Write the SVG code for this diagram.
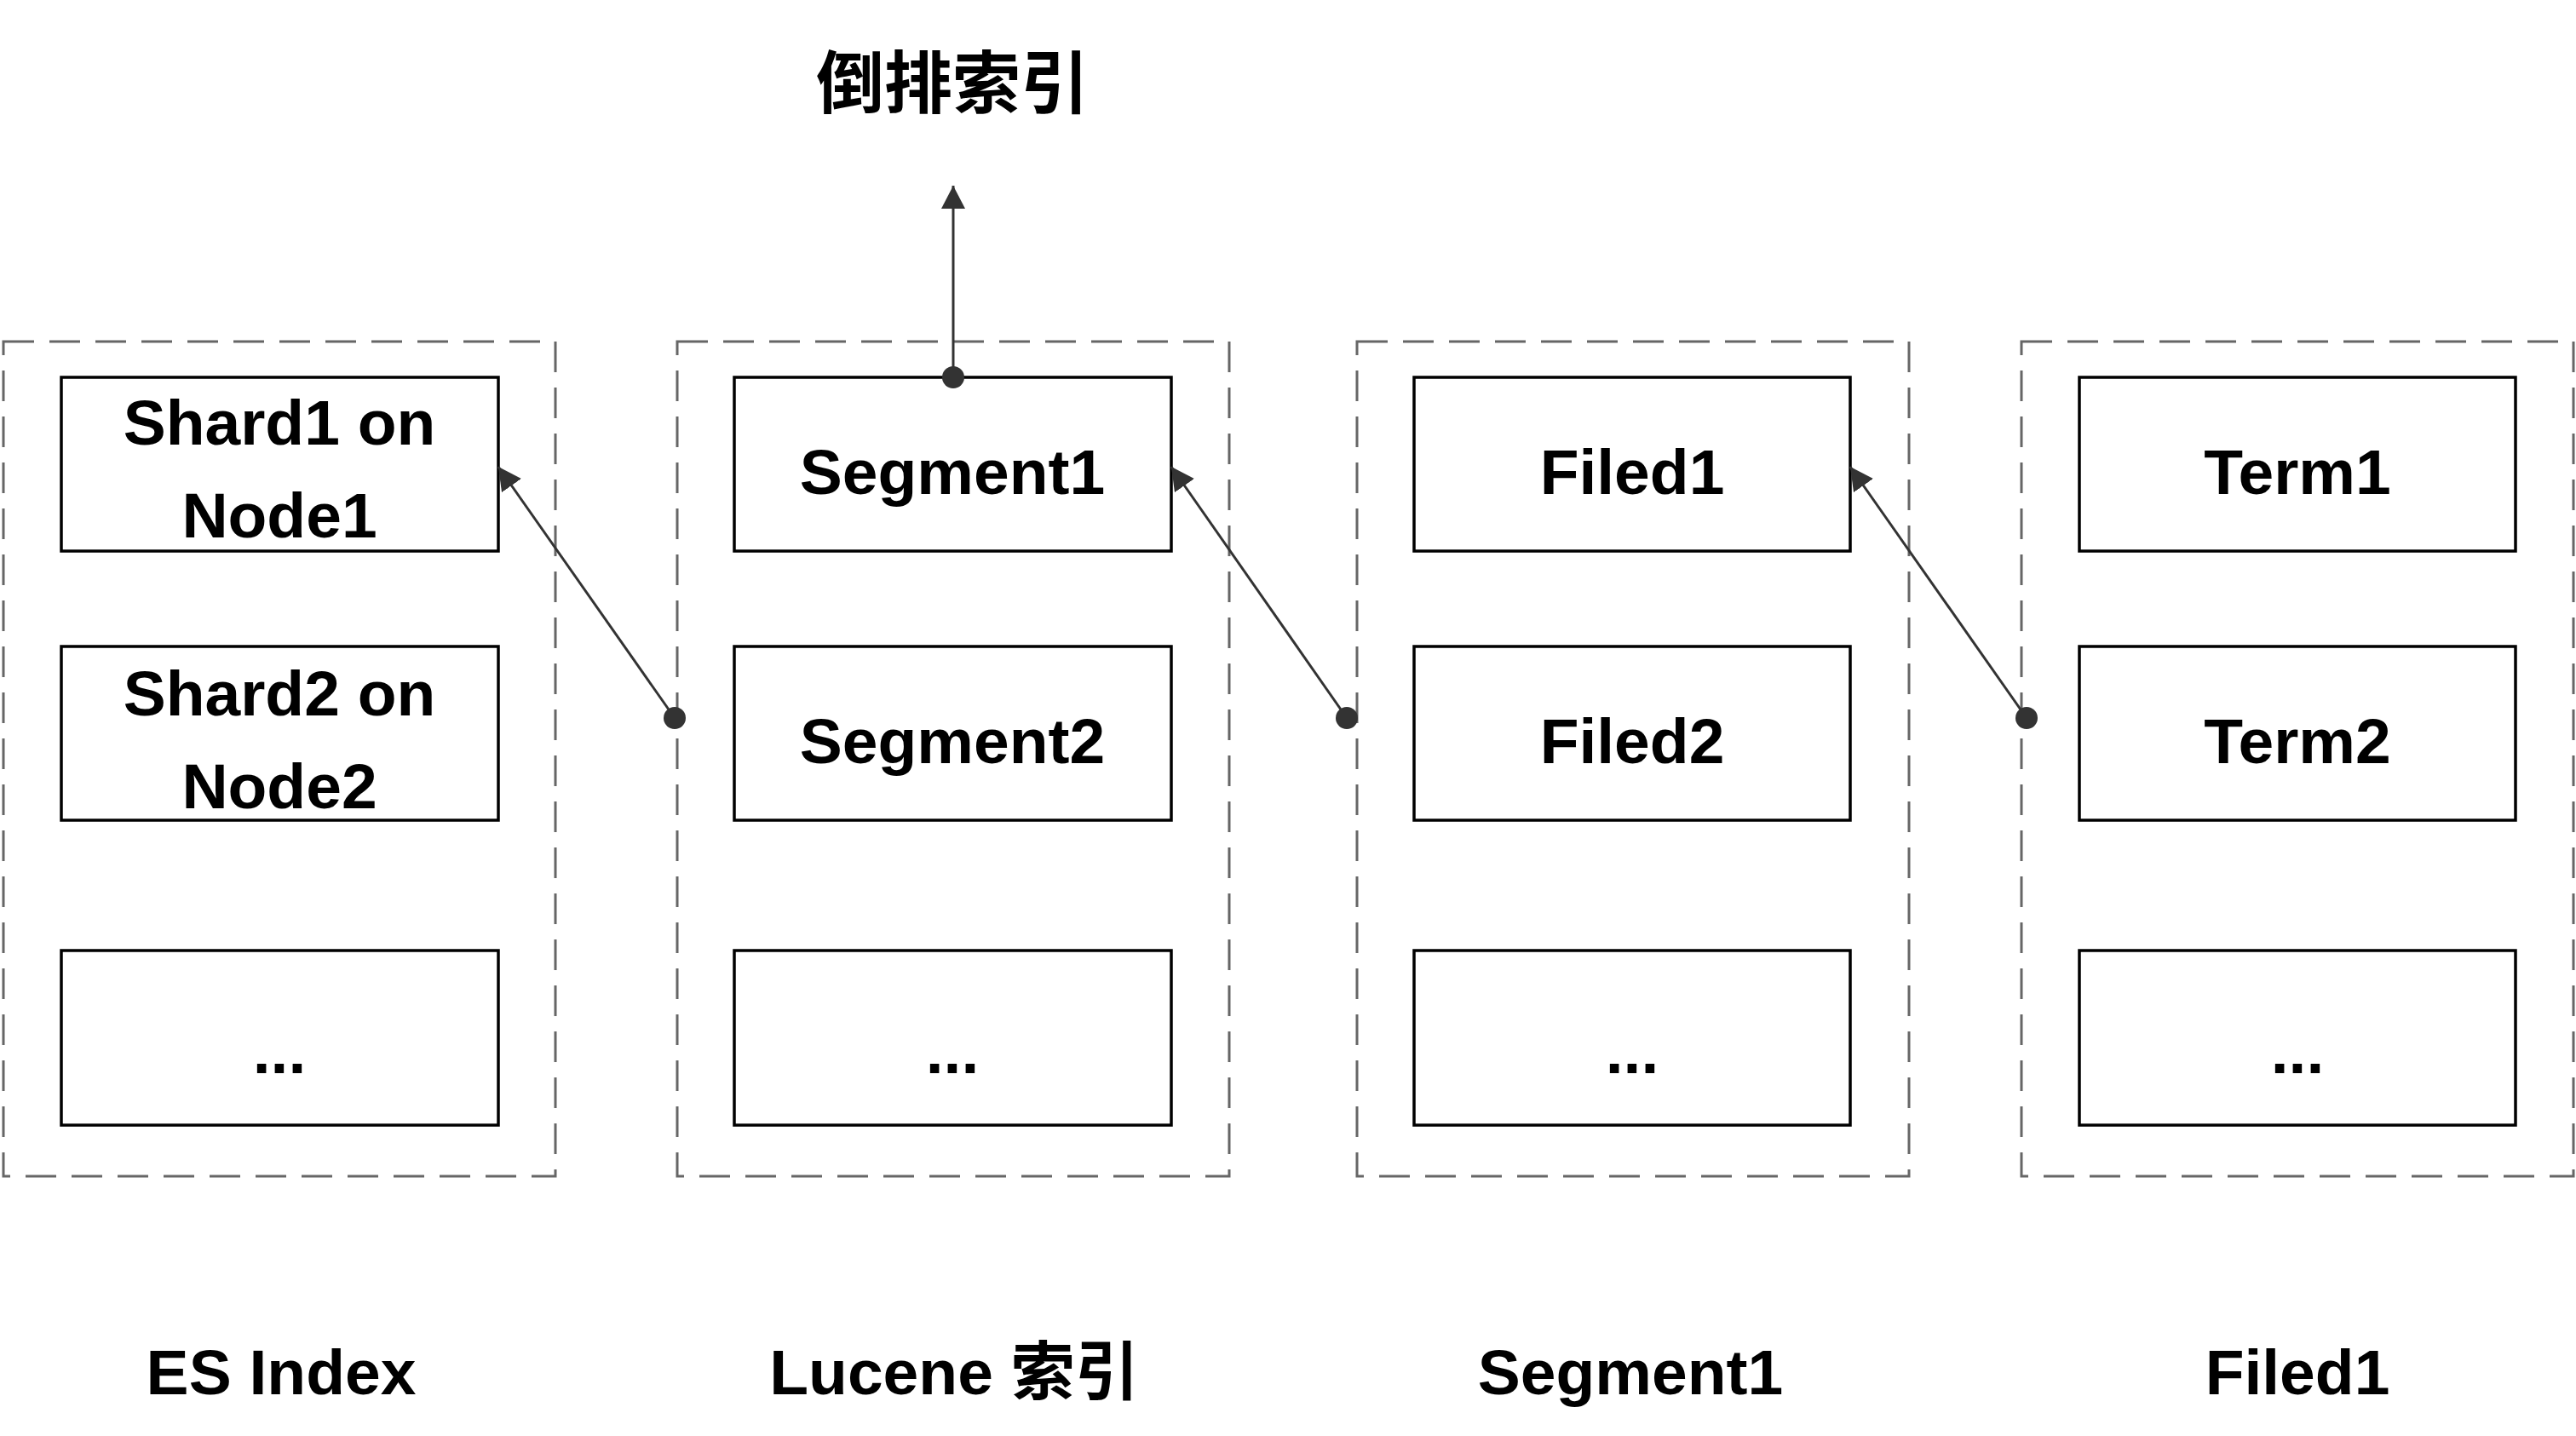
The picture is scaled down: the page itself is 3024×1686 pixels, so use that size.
<svg xmlns="http://www.w3.org/2000/svg" width="3024" height="1686" viewBox="0 0 3024 1686">
<style>
.cont{fill:none;stroke:#666;stroke-width:3;stroke-dasharray:36 18}
.box{fill:#fff;stroke:#000;stroke-width:3.5}
.t{font-family:"Liberation Sans","Noto Sans CJK SC",sans-serif;font-size:75px;font-weight:bold;fill:#000;text-anchor:middle}
.ti{font-family:"Noto Sans CJK SC",sans-serif;font-size:80px;font-weight:bold;fill:#000;text-anchor:middle}
.c{stroke:#333;stroke-width:3;fill:none}
.dot{fill:#333}
</style>
<defs>
<marker id="arr" markerUnits="userSpaceOnUse" markerWidth="30" markerHeight="30" refX="27" refY="14" orient="auto" viewBox="0 0 30 30">
<path d="M0,0 L27,14 L0,28 z" fill="#333"/>
</marker>
</defs>
<rect width="3024" height="1686" fill="#fff"/>
<text class="ti" x="1118" y="126">倒排索引</text>
<g id="es-index">
<rect class="cont" x="4" y="401" width="648" height="980"/>
<g id="shard1"><rect class="box" x="72" y="443" width="513" height="204"/><text class="t" x="328" y="522">Shard1 on</text><text class="t" x="328" y="631">Node1</text></g>
<g id="shard2"><rect class="box" x="72" y="759" width="513" height="204"/><text class="t" x="328" y="840">Shard2 on</text><text class="t" x="328" y="949">Node2</text></g>
<g id="shard-more"><rect class="box" x="72" y="1116" width="513" height="205"/><text class="t" x="328" y="1260">...</text></g>
</g>
<g id="lucene-index">
<rect class="cont" x="795" y="401" width="648" height="980"/>
<g id="segment1"><rect class="box" x="862" y="443" width="513" height="204"/><text class="t" x="1118" y="580">Segment1</text></g>
<g id="segment2"><rect class="box" x="862" y="759" width="513" height="204"/><text class="t" x="1118" y="896">Segment2</text></g>
<g id="segment-more"><rect class="box" x="862" y="1116" width="513" height="205"/><text class="t" x="1118" y="1260">...</text></g>
</g>
<g id="segment1-group">
<rect class="cont" x="1593" y="401" width="648" height="980"/>
<g id="filed1"><rect class="box" x="1660" y="443" width="512" height="204"/><text class="t" x="1916" y="580">Filed1</text></g>
<g id="filed2"><rect class="box" x="1660" y="759" width="512" height="204"/><text class="t" x="1916" y="896">Filed2</text></g>
<g id="filed-more"><rect class="box" x="1660" y="1116" width="512" height="205"/><text class="t" x="1916" y="1260">...</text></g>
</g>
<g id="filed1-group">
<rect class="cont" x="2373" y="401" width="648" height="980"/>
<g id="term1"><rect class="box" x="2441" y="443" width="512" height="204"/><text class="t" x="2697" y="580">Term1</text></g>
<g id="term2"><rect class="box" x="2441" y="759" width="512" height="204"/><text class="t" x="2697" y="896">Term2</text></g>
<g id="term-more"><rect class="box" x="2441" y="1116" width="512" height="205"/><text class="t" x="2697" y="1260">...</text></g>
</g>
<g id="labels">
<text class="t" x="330" y="1637">ES Index</text>
<text class="t" x="1120" y="1637">Lucene 索引</text>
<text class="t" x="1914" y="1637">Segment1</text>
<text class="t" x="2697" y="1637">Filed1</text>
</g>
<g id="connectors">
<line class="c" x1="792" y1="843" x2="585" y2="548" marker-end="url(#arr)"/>
<circle class="dot" cx="792" cy="843" r="13"/>
<line class="c" x1="1581" y1="843" x2="1375" y2="548" marker-end="url(#arr)"/>
<circle class="dot" cx="1581" cy="843" r="13"/>
<line class="c" x1="2379" y1="843" x2="2172" y2="548" marker-end="url(#arr)"/>
<circle class="dot" cx="2379" cy="843" r="13"/>
<line class="c" x1="1119" y1="443" x2="1119" y2="218" marker-end="url(#arr)"/>
<circle class="dot" cx="1119" cy="443" r="13"/>
</g>
</svg>
